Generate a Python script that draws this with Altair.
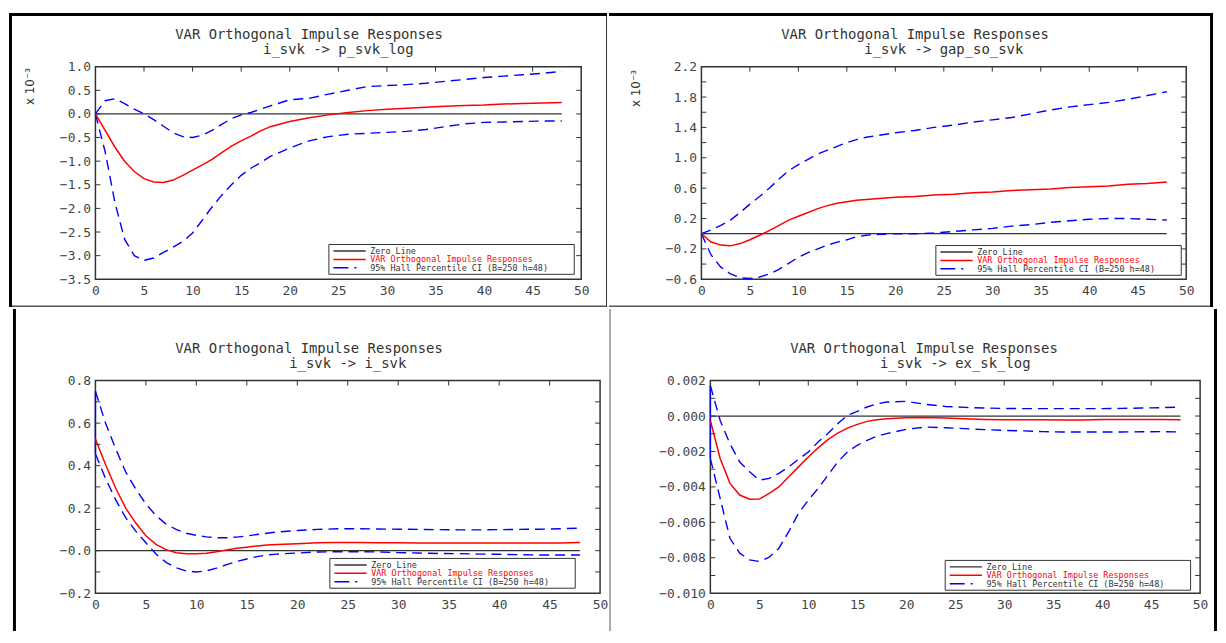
import altair as alt
import pandas as pd

# ---------------- data ----------------
horizon = list(range(0, 19)) + list(range(20, 49, 2))

# Panel 1: i_svk -> p_svk_log  (values in units of 10^-3)
p1_resp = [0.00, -0.35, -0.70, -1.00, -1.22, -1.37, -1.44, -1.45, -1.40, -1.30,
           -1.19, -1.08, -0.96, -0.82, -0.68, -0.57, -0.47, -0.36, -0.27,
           -0.16, -0.08, -0.02, 0.03, 0.07, 0.10, 0.12, 0.14, 0.16, 0.18,
           0.19, 0.21, 0.22, 0.23, 0.24]
p1_hi = [0.00, 0.28, 0.32, 0.22, 0.10, 0.00, -0.12, -0.26, -0.40, -0.48,
         -0.50, -0.45, -0.35, -0.22, -0.10, -0.02, 0.03, 0.10, 0.17,
         0.30, 0.33, 0.42, 0.50, 0.58, 0.60, 0.62, 0.65, 0.69, 0.73,
         0.77, 0.80, 0.83, 0.86, 0.90]
p1_lo = [0.00, -0.80, -1.87, -2.65, -3.00, -3.10, -3.05, -2.93, -2.82, -2.70,
         -2.52, -2.25, -1.97, -1.72, -1.50, -1.30, -1.15, -1.03, -0.90,
         -0.72, -0.57, -0.48, -0.43, -0.41, -0.39, -0.37, -0.33, -0.27, -0.21,
         -0.18, -0.17, -0.16, -0.15, -0.15]

# Panel 2: i_svk -> gap_so_svk  (values in units of 10^-3)
p2_resp = [0.00, -0.11, -0.15, -0.16, -0.13, -0.08, -0.02, 0.04, 0.11, 0.18,
           0.23, 0.28, 0.33, 0.37, 0.40, 0.42, 0.44, 0.45, 0.46,
           0.48, 0.49, 0.51, 0.52, 0.54, 0.55, 0.57, 0.58, 0.59, 0.61,
           0.62, 0.63, 0.65, 0.66, 0.68]
p2_hi = [0.00, 0.05, 0.11, 0.18, 0.28, 0.39, 0.49, 0.60, 0.72, 0.83,
         0.91, 0.98, 1.05, 1.10, 1.15, 1.20, 1.24, 1.27, 1.29,
         1.33, 1.36, 1.40, 1.43, 1.47, 1.50, 1.53, 1.58, 1.63, 1.67,
         1.70, 1.73, 1.77, 1.82, 1.87]
p2_lo = [0.00, -0.28, -0.44, -0.53, -0.58, -0.59, -0.57, -0.53, -0.47, -0.39,
         -0.31, -0.25, -0.20, -0.15, -0.11, -0.08, -0.04, -0.02, -0.01,
         0.00, 0.00, 0.01, 0.03, 0.05, 0.07, 0.10, 0.12, 0.15, 0.17,
         0.19, 0.20, 0.20, 0.19, 0.18]

# Panel 3: i_svk -> i_svk
p3_resp = [0.525, 0.405, 0.295, 0.200, 0.130, 0.070, 0.030, 0.005, -0.010, -0.014,
           -0.014, -0.012, -0.005, 0.003, 0.011, 0.016, 0.022, 0.027, 0.029,
           0.033, 0.037, 0.038, 0.038, 0.037, 0.037, 0.036, 0.036, 0.036, 0.036,
           0.036, 0.036, 0.036, 0.036, 0.039]
p3_hi = [0.750, 0.600, 0.480, 0.370, 0.290, 0.220, 0.165, 0.125, 0.100, 0.082,
         0.072, 0.065, 0.061, 0.061, 0.064, 0.069, 0.076, 0.082, 0.088,
         0.095, 0.100, 0.103, 0.103, 0.102, 0.101, 0.100, 0.099, 0.098, 0.098,
         0.099, 0.100, 0.101, 0.103, 0.106]
p3_lo = [0.456, 0.340, 0.240, 0.155, 0.092, 0.037, -0.016, -0.055, -0.080, -0.095,
         -0.100, -0.095, -0.082, -0.066, -0.051, -0.039, -0.028, -0.020, -0.016,
         -0.011, -0.006, -0.005, -0.005, -0.006, -0.009, -0.011, -0.013, -0.014, -0.016,
         -0.017, -0.019, -0.020, -0.020, -0.020]

# Panel 4: i_svk -> ex_sk_log
p4_resp = [-0.00025, -0.00240, -0.00380, -0.00446, -0.00470, -0.00469, -0.00437, -0.00400, -0.00343, -0.00287,
           -0.00231, -0.00180, -0.00133, -0.00096, -0.00068, -0.00047, -0.00030, -0.00021, -0.00015,
           -0.00009, -0.00008, -0.00011, -0.00015, -0.00019, -0.00021, -0.00021, -0.00021, -0.00022, -0.00022,
           -0.00019, -0.00019, -0.00019, -0.00019, -0.00021]
p4_hi = [0.00172, -0.00025, -0.00156, -0.00260, -0.00315, -0.00362, -0.00352, -0.00324, -0.00287, -0.00244,
         -0.00203, -0.00146, -0.00099, -0.00043, 0.00004, 0.00026, 0.00051, 0.00069, 0.00079,
         0.00083, 0.00066, 0.00054, 0.00049, 0.00045, 0.00043, 0.00042, 0.00042, 0.00042, 0.00042,
         0.00042, 0.00043, 0.00045, 0.00047, 0.00051]
p4_lo = [-0.00240, -0.00465, -0.00690, -0.00774, -0.00812, -0.00821, -0.00797, -0.00746, -0.00653, -0.00549,
         -0.00474, -0.00409, -0.00334, -0.00259, -0.00203, -0.00165, -0.00137, -0.00114, -0.00099,
         -0.00075, -0.00062, -0.00066, -0.00071, -0.00077, -0.00081, -0.00084, -0.00088, -0.00090, -0.00090,
         -0.00090, -0.00090, -0.00089, -0.00088, -0.00090]

# text
main_title = "VAR Orthogonal Impulse Responses"
subtitles = ["i_svk -> p_svk_log", "i_svk -> gap_so_svk", "i_svk -> i_svk", "i_svk -> ex_sk_log"]
legend_labels = ["Zero Line", "VAR Orthogonal Impulse Responses", "95% Hall Percentile CI (B=250 h=48)"]
scale_note = "x 10\u207b\u00b3"

# tick labels / tick marks
x_labels = [0, 5, 10, 15, 20, 25, 30, 35, 40, 45, 50]
x_inner_ticks = [5, 10, 15, 20, 25, 30, 35, 40, 45]
p1_ylabels = [-3.5, -3.0, -2.5, -2.0, -1.5, -1.0, -0.5, 0.0, 0.5, 1.0]
p1_yticks = [-3.0, -2.5, -2.0, -1.5, -1.0, -0.5, 0.0, 0.5]
p2_ylabels = [-0.6, -0.2, 0.2, 0.6, 1.0, 1.4, 1.8, 2.2]
p2_yticks = [-0.4, -0.2, 0.0, 0.2, 0.4, 0.6, 0.8, 1.0, 1.2, 1.4, 1.6, 1.8, 2.0]
p3_ylabels = [-0.2, 0.0, 0.2, 0.4, 0.6, 0.8]
p3_yticks = [-0.1, 0.0, 0.1, 0.2, 0.3, 0.4, 0.5, 0.6, 0.7]
p4_ylabels = [-0.010, -0.008, -0.006, -0.004, -0.002, 0.000, 0.002]
p4_yticks = [-0.009, -0.008, -0.007, -0.006, -0.005, -0.004, -0.003, -0.002, -0.001, 0.000, 0.001]

# ---------------- styling ----------------
MONO = "DejaVu Sans Mono"
SANS = "DejaVu Sans"
TXT = "#333333"
RED = "#ff0000"
BLUE = "#0000ff"
LEG_W, LEG_H = 247, 30

panels = [
    dict(resp=p1_resp, hi=p1_hi, lo=p1_lo, sub=subtitles[0], W=489, H=214,
         cell=(-87, 515, -56, 242), domain=[-3.5, 1.0], ylabels=p1_ylabels, yticks=p1_yticks,
         expr="format(datum.value, '.1f')", note=(-66, 20), leg=(7, 5),
         borders=[(-87, 515, -54, -51, "#000"), (-87, -84, -54, 242, "#000"),
                  (514, 515, -51, 242, "#333"), (-84, 515, 240.5, 242, "#555")]),
    dict(resp=p2_resp, hi=p2_hi, lo=p2_lo, sub=subtitles[1], W=488, H=214,
         cell=(-93, 515, -56, 242), domain=[-0.6, 2.2], ylabels=p2_ylabels, yticks=p2_yticks,
         expr="format(datum.value, '.1f')", note=(-65.5, 22), leg=(5, 4),
         borders=[(-93, 515, -54, -51, "#000"), (512, 515, -54, 242, "#000"),
                  (-93, 512, 240.5, 242, "#555")]),
    dict(resp=p3_resp, hi=p3_hi, lo=p3_lo, sub=subtitles[2], W=508, H=214,
         cell=(-83, 519, -72, 252), domain=[-0.2, 0.8], ylabels=p3_ylabels, yticks=p3_yticks,
         expr="datum.value == 0 ? '\u22120.0' : format(datum.value, '.1f')", note=None, leg=(25, 5),
         borders=[(-83, -80, -72, 252, "#000"), (517, 519, -72, 252, "#aaa")]),
    dict(resp=p4_resp, hi=p4_hi, lo=p4_lo, sub=subtitles[3], W=493, H=214,
         cell=(-98, 510, -72, 252), domain=[-0.010, 0.002], ylabels=p4_ylabels, yticks=p4_yticks,
         expr="format(datum.value, '.3f')", note=None, leg=(9.6, 3),
         borders=[(507, 510, -72, 252, "#000")]),
]

one = pd.DataFrame({"k": [0]})


def vrect(x0, x1, y0, y1, **kw):
    return alt.Chart(one).mark_rect(**kw).encode(
        x=alt.value(x0), x2=alt.value(x1), y=alt.value(y0), y2=alt.value(y1))


def vtext(text, x, y, **kw):
    return alt.Chart(one).mark_text(text=text, **kw).encode(x=alt.value(x), y=alt.value(y))


def make_panel(c):
    W, H = c["W"], c["H"]
    xs = alt.Scale(domain=[0, 50], nice=False, zero=False)
    ys = alt.Scale(domain=c["domain"], nice=False, zero=False)
    xaxis = alt.Axis(values=x_labels, format="d", labelOverlap=False, labelFlush=False, title=None)
    yaxis = alt.Axis(values=c["ylabels"], labelExpr=c["expr"], labelOverlap=False,
                     labelFlush=False, title=None)

    def X(f):
        return alt.X(f, scale=xs, axis=xaxis, title=None)

    def Y(f):
        return alt.Y(f, scale=ys, axis=yaxis, title=None)

    df = pd.DataFrame({"h": horizon, "resp": c["resp"], "hi": c["hi"], "lo": c["lo"]})
    base = alt.Chart(df)
    layers = []
    # extent of the panel cell
    cx0, cx1, cy0, cy1 = c["cell"]
    layers.append(vrect(cx0, cx1, cy0, cy1, opacity=0))
    for (bx0, bx1, by0, by1, col) in c["borders"]:
        layers.append(vrect(bx0, bx1, by0, by1, color=col))

    zero_df = pd.DataFrame({"x0": [horizon[0]], "x1": [horizon[-1]], "y0": [0.0]})
    layers.append(alt.Chart(zero_df).mark_rule(color=TXT, strokeWidth=1.2).encode(
        x=X("x0:Q"), x2="x1:Q", y=Y("y0:Q")))

    layers.append(base.mark_line(color=BLUE, strokeWidth=1.4, strokeDash=[10, 6]).encode(
        x=X("h:Q"), y=Y("hi:Q")))
    layers.append(base.mark_line(color=BLUE, strokeWidth=1.4, strokeDash=[10, 6]).encode(
        x=X("h:Q"), y=Y("lo:Q")))
    if c["lo"][0] != c["hi"][0]:
        seg = pd.DataFrame({"x0": [horizon[0]], "lo0": [c["lo"][0]], "hi0": [c["hi"][0]]})
        layers.append(alt.Chart(seg).mark_rule(color=BLUE, strokeWidth=1.4).encode(
            x=X("x0:Q"), y=Y("lo0:Q"), y2="hi0:Q"))
    layers.append(base.mark_line(color=RED, strokeWidth=1.5).encode(x=X("h:Q"), y=Y("resp:Q")))

    # inward ticks
    tdf = pd.DataFrame({"v": x_inner_ticks})
    layers.append(alt.Chart(tdf).mark_rule(color=TXT, strokeWidth=1).encode(
        x=X("v:Q"), y=alt.value(0), y2=alt.value(5)))
    ydf = pd.DataFrame({"v": c["yticks"]})
    layers.append(alt.Chart(ydf).mark_rule(color=TXT, strokeWidth=1).encode(
        y=Y("v:Q"), x=alt.value(0), x2=alt.value(5)))
    layers.append(alt.Chart(ydf).mark_rule(color=TXT, strokeWidth=1).encode(
        y=Y("v:Q"), x=alt.value(W - 5), x2=alt.value(W)))

    # legend box
    ir, ib = c["leg"]
    lx1 = W - ir
    lx0 = lx1 - LEG_W
    ly1 = H - ib
    ly0 = ly1 - LEG_H
    layers.append(vrect(lx0, lx1, ly0, ly1, fill="white", stroke=TXT, strokeWidth=1))
    sample_styles = [dict(color=TXT), dict(color=RED), dict(color=BLUE, strokeDash=[15, 6, 2, 30])]
    text_colors = [TXT, RED, TXT]
    for i, lab in enumerate(legend_labels):
        yy = ly0 + 6.5 + 8.5 * i
        layers.append(alt.Chart(one).mark_rule(strokeWidth=1.5, **sample_styles[i]).encode(
            x=alt.value(lx0 + 4.6), x2=alt.value(lx0 + 37), y=alt.value(yy)))
        layers.append(vtext(lab, lx0 + 41.6, yy, font=MONO, fontSize=8.5, color=text_colors[i],
                            align="left", baseline="middle"))

    # titles
    layers.append(vtext(main_title, 215, -32, font=MONO, fontSize=14, color=TXT,
                        align="center", baseline="middle"))
    layers.append(vtext(c["sub"], W / 2, -16.5, font=MONO, fontSize=14, color=TXT,
                        align="center", baseline="middle"))
    if c["note"] is not None:
        layers.append(vtext(scale_note, c["note"][0], c["note"][1], font=SANS, fontSize=12,
                            color=TXT, angle=270, align="center", baseline="middle"))

    return alt.layer(*layers).properties(width=W, height=H)


p1, p2, p3, p4 = [make_panel(c) for c in panels]
row1 = alt.hconcat(p1, p2, spacing=0)
row2 = alt.hconcat(p3, p4, spacing=0)
chart = alt.vconcat(row1, row2, spacing=0).properties(padding=0, background="white")
chart = chart.configure_view(stroke="#333333", strokeWidth=1.5).configure_axis(
    labelFont=MONO, labelFontSize=13, labelColor="#444444", ticks=False, tickSize=0,
    domain=False, grid=False, labelPadding=5)

chart.save("out.html", embed_options={"renderer": "svg", "actions": False})
